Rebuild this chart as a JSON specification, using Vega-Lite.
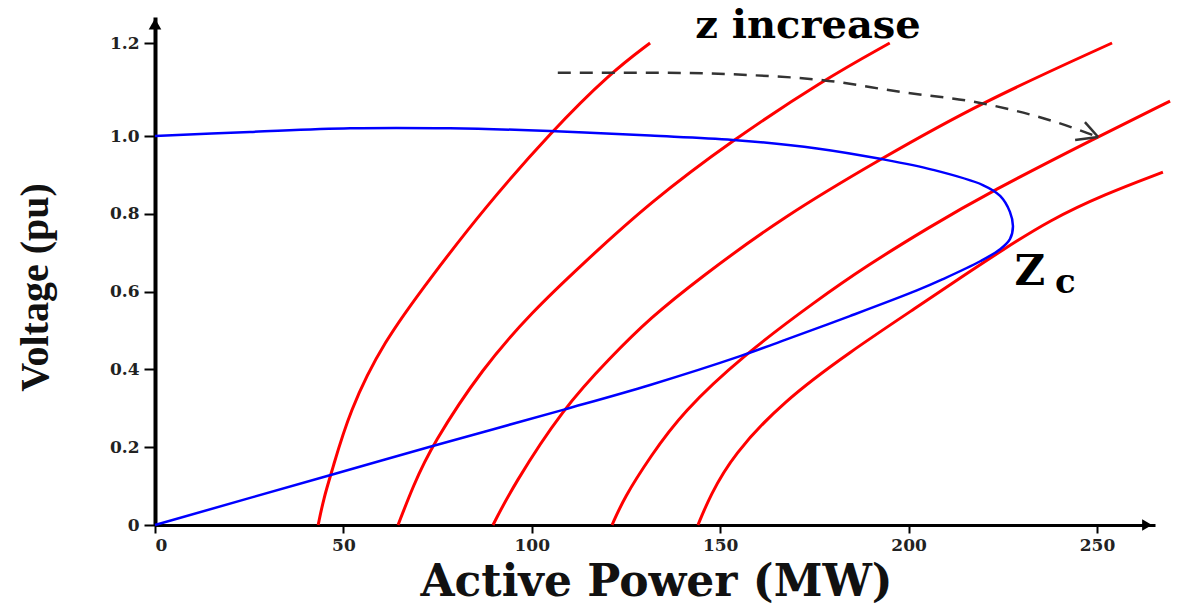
{
  "$schema": "https://vega.github.io/schema/vega-lite/v6.json",
  "width": 1000,
  "height": 508,
  "autosize": {"type": "none"},
  "padding": {"left": 155, "top": 17, "right": 22, "bottom": 81},
  "background": "white",
  "config": {
    "view": {"stroke": null},
    "axis": {
      "grid": false,
      "domainColor": "#000000",
      "tickColor": "#000000",
      "tickWidth": 2,
      "labelFont": "DejaVu Serif",
      "labelFontWeight": "bold",
      "labelFontSize": 17,
      "labelColor": "#222222",
      "titleColor": "#111111",
      "titleFontWeight": "bold"
    }
  },
  "datasets": {
    "curves": [
      {"s": "z1", "g": "red", "o": 1, "x": 43.3, "y": 0},
      {"s": "z1", "g": "red", "o": 2, "x": 44.8, "y": 0.07},
      {"s": "z1", "g": "red", "o": 3, "x": 47, "y": 0.14},
      {"s": "z1", "g": "red", "o": 4, "x": 51.5, "y": 0.29},
      {"s": "z1", "g": "red", "o": 5, "x": 60.5, "y": 0.47},
      {"s": "z1", "g": "red", "o": 6, "x": 73.5, "y": 0.64},
      {"s": "z1", "g": "red", "o": 7, "x": 87, "y": 0.81},
      {"s": "z1", "g": "red", "o": 8, "x": 105.6, "y": 1.013},
      {"s": "z1", "g": "red", "o": 9, "x": 120.8, "y": 1.135},
      {"s": "z1", "g": "red", "o": 10, "x": 131.4, "y": 1.2},
      {"s": "z2", "g": "red", "o": 1, "x": 64.5, "y": 0},
      {"s": "z2", "g": "red", "o": 2, "x": 68.5, "y": 0.1},
      {"s": "z2", "g": "red", "o": 3, "x": 73.5, "y": 0.205},
      {"s": "z2", "g": "red", "o": 4, "x": 87, "y": 0.405},
      {"s": "z2", "g": "red", "o": 5, "x": 100.3, "y": 0.55},
      {"s": "z2", "g": "red", "o": 6, "x": 112.8, "y": 0.665},
      {"s": "z2", "g": "red", "o": 7, "x": 131.4, "y": 0.83},
      {"s": "z2", "g": "red", "o": 8, "x": 153.4, "y": 0.99},
      {"s": "z2", "g": "red", "o": 9, "x": 177.3, "y": 1.12},
      {"s": "z2", "g": "red", "o": 10, "x": 195, "y": 1.2},
      {"s": "z3", "g": "red", "o": 1, "x": 89.7, "y": 0},
      {"s": "z3", "g": "red", "o": 2, "x": 95, "y": 0.1},
      {"s": "z3", "g": "red", "o": 3, "x": 108.3, "y": 0.3},
      {"s": "z3", "g": "red", "o": 4, "x": 120.8, "y": 0.43},
      {"s": "z3", "g": "red", "o": 5, "x": 131.4, "y": 0.532},
      {"s": "z3", "g": "red", "o": 6, "x": 144.6, "y": 0.635},
      {"s": "z3", "g": "red", "o": 7, "x": 166.7, "y": 0.792},
      {"s": "z3", "g": "red", "o": 8, "x": 192.4, "y": 0.94},
      {"s": "z3", "g": "red", "o": 9, "x": 219, "y": 1.071},
      {"s": "z3", "g": "red", "o": 10, "x": 254, "y": 1.2},
      {"s": "z4", "g": "red", "o": 1, "x": 121.3, "y": 0},
      {"s": "z4", "g": "red", "o": 2, "x": 124.5, "y": 0.07},
      {"s": "z4", "g": "red", "o": 3, "x": 131.4, "y": 0.175},
      {"s": "z4", "g": "red", "o": 4, "x": 140, "y": 0.29},
      {"s": "z4", "g": "red", "o": 5, "x": 156, "y": 0.435},
      {"s": "z4", "g": "red", "o": 6, "x": 175.7, "y": 0.578},
      {"s": "z4", "g": "red", "o": 7, "x": 189, "y": 0.667},
      {"s": "z4", "g": "red", "o": 8, "x": 205, "y": 0.763},
      {"s": "z4", "g": "red", "o": 9, "x": 221.6, "y": 0.856},
      {"s": "z4", "g": "red", "o": 10, "x": 250, "y": 0.997},
      {"s": "z4", "g": "red", "o": 11, "x": 269.4, "y": 1.075},
      {"s": "z5", "g": "red", "o": 1, "x": 144.1, "y": 0},
      {"s": "z5", "g": "red", "o": 2, "x": 147.3, "y": 0.075},
      {"s": "z5", "g": "red", "o": 3, "x": 153.4, "y": 0.18},
      {"s": "z5", "g": "red", "o": 4, "x": 166.7, "y": 0.318},
      {"s": "z5", "g": "red", "o": 5, "x": 184.4, "y": 0.445},
      {"s": "z5", "g": "red", "o": 6, "x": 202.2, "y": 0.56},
      {"s": "z5", "g": "red", "o": 7, "x": 216, "y": 0.65},
      {"s": "z5", "g": "red", "o": 8, "x": 224.3, "y": 0.703},
      {"s": "z5", "g": "red", "o": 9, "x": 237.5, "y": 0.784},
      {"s": "z5", "g": "red", "o": 10, "x": 252, "y": 0.85},
      {"s": "z5", "g": "red", "o": 11, "x": 267.5, "y": 0.907},
      {"s": "pv", "g": "blue", "o": 1, "x": 0, "y": 1.0},
      {"s": "pv", "g": "blue", "o": 2, "x": 25.2, "y": 1.0086},
      {"s": "pv", "g": "blue", "o": 3, "x": 51.8, "y": 1.0166},
      {"s": "pv", "g": "blue", "o": 4, "x": 78.3, "y": 1.0166},
      {"s": "pv", "g": "blue", "o": 5, "x": 104.8, "y": 1.0108},
      {"s": "pv", "g": "blue", "o": 6, "x": 131.4, "y": 1.001},
      {"s": "pv", "g": "blue", "o": 7, "x": 153.4, "y": 0.99},
      {"s": "pv", "g": "blue", "o": 8, "x": 175.7, "y": 0.968},
      {"s": "pv", "g": "blue", "o": 9, "x": 193.2, "y": 0.94},
      {"s": "pv", "g": "blue", "o": 10, "x": 206.5, "y": 0.913},
      {"s": "pv", "g": "blue", "o": 11, "x": 219.7, "y": 0.874},
      {"s": "pv", "g": "blue", "o": 12, "x": 224.3, "y": 0.846},
      {"s": "pv", "g": "blue", "o": 13, "x": 226.9, "y": 0.805},
      {"s": "pv", "g": "blue", "o": 14, "x": 227.7, "y": 0.767},
      {"s": "pv", "g": "blue", "o": 15, "x": 226.9, "y": 0.735},
      {"s": "pv", "g": "blue", "o": 16, "x": 224.3, "y": 0.709},
      {"s": "pv", "g": "blue", "o": 17, "x": 219, "y": 0.678},
      {"s": "pv", "g": "blue", "o": 18, "x": 209.1, "y": 0.632},
      {"s": "pv", "g": "blue", "o": 19, "x": 202.2, "y": 0.603},
      {"s": "pv", "g": "blue", "o": 20, "x": 184.4, "y": 0.537},
      {"s": "pv", "g": "blue", "o": 21, "x": 166.7, "y": 0.474},
      {"s": "pv", "g": "blue", "o": 22, "x": 155.3, "y": 0.434},
      {"s": "pv", "g": "blue", "o": 23, "x": 131.4, "y": 0.36},
      {"s": "pv", "g": "blue", "o": 24, "x": 108.3, "y": 0.296},
      {"s": "pv", "g": "blue", "o": 25, "x": 73, "y": 0.201},
      {"s": "pv", "g": "blue", "o": 26, "x": 46.4, "y": 0.128},
      {"s": "pv", "g": "blue", "o": 27, "x": 0, "y": 0},
      {"s": "dash", "g": "dash", "o": 1, "x": 106.9, "y": 1.136},
      {"s": "dash", "g": "dash", "o": 2, "x": 133.2, "y": 1.136},
      {"s": "dash", "g": "dash", "o": 3, "x": 157.9, "y": 1.131},
      {"s": "dash", "g": "dash", "o": 4, "x": 177.3, "y": 1.12},
      {"s": "dash", "g": "dash", "o": 5, "x": 197.7, "y": 1.095},
      {"s": "dash", "g": "dash", "o": 6, "x": 219, "y": 1.071},
      {"s": "dash", "g": "dash", "o": 7, "x": 237.5, "y": 1.034},
      {"s": "dash", "g": "dash", "o": 8, "x": 250.3, "y": 0.9974},
      {"s": "barbA", "g": "barb", "o": 1, "x": 246.8, "y": 1.03},
      {"s": "barbA", "g": "barb", "o": 2, "x": 250.3, "y": 0.9974},
      {"s": "barbB", "g": "barb", "o": 1, "x": 244.2, "y": 0.99},
      {"s": "barbB", "g": "barb", "o": 2, "x": 250.3, "y": 0.9974}
    ]
  },
  "encoding": {
    "x": {
      "field": "x",
      "type": "quantitative",
      "scale": {"domain": [0, 265.4], "nice": false, "zero": false},
      "axis": {
        "values": [0, 50, 100, 150, 200, 250],
        "title": "Active Power (MW)",
        "titleFont": "DejaVu Serif",
        "titleFontSize": 44,
        "titleX": 501,
        "titleY": 57,
        "titleBaseline": "middle",
        "titleAlign": "center",
        "domainWidth": 3,
        "tickSize": 8,
        "labelPadding": 4
      }
    },
    "y": {
      "field": "y",
      "type": "quantitative",
      "scale": {"domain": [0, 1, 1.2, 1.256], "range": [508, 119, 26, 0], "nice": false, "zero": false},
      "axis": {
        "values": [0, 0.2, 0.4, 0.6, 0.8, 1.0, 1.2],
        "labelExpr": "datum.value == 0 ? '0' : format(datum.value, '.1f')",
        "title": "Voltage (pu)",
        "titleFont": "Liberation Serif",
        "titleFontSize": 40,
        "titleAngle": 270,
        "titleX": -120,
        "titleY": 270,
        "titleBaseline": "middle",
        "titleAlign": "center",
        "domainWidth": 4,
        "tickSize": 11,
        "labelPadding": 5
      }
    }
  },
  "layer": [
    {
      "data": {"name": "curves"},
      "transform": [{"filter": "datum.g == 'red'"}],
      "mark": {"type": "line", "color": "#ff0000", "strokeWidth": 3, "interpolate": "basis"},
      "encoding": {"detail": {"field": "s"}, "order": {"field": "o"}}
    },
    {
      "data": {"name": "curves"},
      "transform": [{"filter": "datum.g == 'blue'"}],
      "mark": {"type": "line", "color": "#0000ff", "strokeWidth": 2.5, "interpolate": "catmull-rom"},
      "encoding": {"order": {"field": "o"}}
    },
    {
      "data": {"name": "curves"},
      "transform": [{"filter": "datum.g == 'dash'"}],
      "mark": {"type": "line", "color": "#333333", "strokeWidth": 2.5, "strokeDash": [13, 9], "interpolate": "monotone"},
      "encoding": {"order": {"field": "o"}}
    },
    {
      "data": {"name": "curves"},
      "transform": [{"filter": "datum.g == 'barb'"}],
      "mark": {"type": "line", "color": "#333333", "strokeWidth": 2.5},
      "encoding": {"detail": {"field": "s"}, "order": {"field": "o"}}
    },
    {
      "data": {"values": [{"x": 0, "y": 1.241}]},
      "mark": {"type": "point", "shape": "triangle-up", "filled": true, "color": "#000000", "size": 160, "opacity": 1}
    },
    {
      "data": {"values": [{"x": 263.3, "y": 0}]},
      "mark": {"type": "point", "shape": "triangle-right", "filled": true, "color": "#000000", "size": 130, "opacity": 1}
    },
    {
      "data": {"values": [{"x": 173.3, "y": 1.2108, "t": "z increase"}]},
      "mark": {"type": "text", "font": "DejaVu Serif", "fontWeight": "bold", "fontSize": 40, "align": "center", "baseline": "alphabetic", "color": "#000000"},
      "encoding": {"text": {"field": "t"}}
    },
    {
      "data": {"values": [{"x": 232.2, "y": 0.617, "t": "Z"}]},
      "mark": {"type": "text", "font": "DejaVu Serif", "fontWeight": "bold", "fontSize": 42, "align": "center", "baseline": "alphabetic", "color": "#000000"},
      "encoding": {"text": {"field": "t"}}
    },
    {
      "data": {"values": [{"x": 241.6, "y": 0.596, "t": "c"}]},
      "mark": {"type": "text", "font": "DejaVu Serif", "fontWeight": "bold", "fontSize": 34, "align": "center", "baseline": "alphabetic", "color": "#000000"},
      "encoding": {"text": {"field": "t"}}
    }
  ]
}
